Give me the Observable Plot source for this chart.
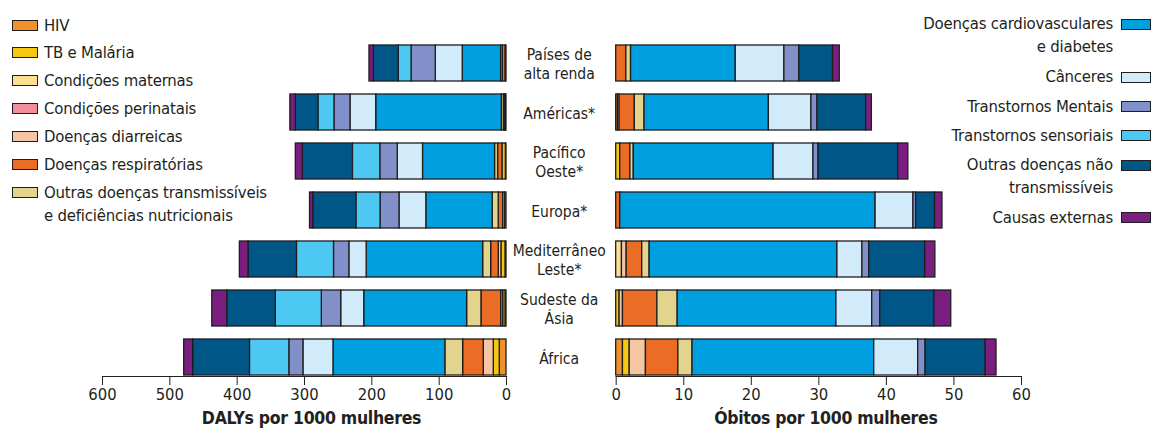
<!DOCTYPE html>
<html><head><meta charset="utf-8">
<script src="https://cdn.jsdelivr.net/npm/d3@7"></script>
<script src="https://cdn.jsdelivr.net/npm/@observablehq/plot@0.6"></script>
<style>
body{margin:0;background:#fff;}
#wrap{position:relative;width:1154px;height:434px;overflow:hidden;font-family:"Liberation Sans Narrow","Arial Narrow","DejaVu Sans Condensed",sans-serif;color:#231f20;}
#left,#right{position:absolute;top:0;}
#left{left:0}
#right{left:510px}
.leg{position:absolute;font-size:16.6px;letter-spacing:-0.2px;line-height:23px;white-space:nowrap;}
.sw{position:absolute;box-sizing:border-box;border:1.4px solid #1e1e1e;}
</style></head>
<body><div id="wrap"><div id="left"></div><div id="right"></div></div>
<script>
// ---- data ----
const regions = ["Países de alta renda","Américas*","Pacífico Oeste*","Europa*","Mediterrâneo Leste*","Sudeste da Ásia","África"];
const regionLabels = ["Países de\nalta renda","Américas*","Pacífico\nOeste*","Europa*","Mediterrâneo\nLeste*","Sudeste da\nÁsia","África"];
const causes = ["HIV","TB e Malária","Condições maternas","Condições perinatais","Doenças diarreicas","Doenças respiratórias","Outras doenças transmissíveis e deficiências nutricionais","Doenças cardiovasculares e diabetes","Cânceres","Transtornos Mentais","Transtornos sensoriais","Outras doenças não transmissíveis","Causas externas"];
const colors = ["#f0922b","#f6c70f","#fde08f","#f28e9a","#f4c6a4","#eb6c25","#e2d38d","#009fdf","#d1ebfb","#8190c8","#4dc8f2","#005787","#7a1f7f"];

// DALYs por 1000 mulheres (values in causes order)
const dalysAltaRenda     = [1.5, 0,   0, 0, 0,    4,    2.5,  57,    40,   36,   19,   37,   6.5];
const dalysAmericas      = [1,   0.5, 0.5, 0, 0.5, 1.5,  3,    186.5, 38.2, 23.8, 23.8, 33.6, 8.1];
const dalysPacifico      = [1,   5,   0, 0, 0,    6.5,  4.5,  107,   37.6, 25.8, 40.7, 74.4, 10.4];
const dalysEuropa        = [2,   3,   0, 0, 0,    6.6,  8.9,  98.6,  39.8, 28.2, 35.8, 64,   4.9];
const dalysMediterraneo  = [1.5, 6,   0, 0, 4,    11.3, 11.9, 173,   25.7, 22.8, 55,   72,   12.8];
const dalysSudeste       = [1.5, 3.4, 0, 0, 3,    29.3, 21.3, 152.8, 34.2, 28.8, 68.4, 72,   22.3];
const dalysAfrica        = [10,  8.9, 0, 0, 14.9, 30.6, 26.4, 166.2, 44.6, 20.9, 58.5, 84.3, 13.4];

// Óbitos por 1000 mulheres
const obitosAltaRenda    = [0,    0,   0,    0, 0,    1.5,  0.7,  15.5, 7.2, 2.2,  0, 5.0,  1.0];
const obitosAmericas     = [0.25, 0,   0,    0, 0.25, 2.25, 1.45, 18.4, 6.3, 0.9,  0, 7.2,  0.85];
const obitosPacifico     = [0,    0.6, 0,    0, 0,    1.5,  0.5,  20.7, 5.9, 0.75, 0, 11.8, 1.5];
const obitosEuropa       = [0,    0,   0,    0, 0,    0.6,  0,    37.8, 5.6, 0.4,  0, 2.8,  1.1];
const obitosMediterraneo = [0,    0,   0.85, 0, 0.7,  2.3,  1.1,  27.8, 3.7, 1.0,  0, 8.3,  1.5];
const obitosSudeste      = [0,    0.5, 0,    0, 0.5,  5.1,  3.0,  23.5, 5.3, 1.2,  0, 8.0,  2.5];
const obitosAfrica       = [1.0,  1.0, 0,    0, 2.4,  4.8,  2.1,  26.9, 6.5, 1.1,  0, 8.9,  1.6];

const dalysTicks = [0,100,200,300,400,500,600];
const obitosTicks = [0,10,20,30,40,50,60];

// ---- build tables ----
function table(series) {
  const rows = [];
  series.forEach((vals, r) => vals.forEach((v, c) => { if (v > 0) rows.push({region: regions[r], cause: causes[c], value: v}); }));
  return rows;
}
const dalysRows = table([dalysAltaRenda,dalysAmericas,dalysPacifico,dalysEuropa,dalysMediterraneo,dalysSudeste,dalysAfrica]);
const obitosRows = table([obitosAltaRenda,obitosAmericas,obitosPacifico,obitosEuropa,obitosMediterraneo,obitosSudeste,obitosAfrica]);

const font = '"Liberation Sans Narrow","Arial Narrow","DejaVu Sans Condensed",sans-serif';
const common = {
  height: 434, marginTop: 44, marginBottom: 58,
  style: {fontFamily: font, fontSize: "16.5px", color: "#231f20", background: "transparent", overflow: "visible"},
  y: {domain: regions, paddingInner: 0.27, paddingOuter: 0, axis: null},
  color: {domain: causes, range: colors}
};

const leftPlot = Plot.plot({
  ...common,
  width: 530, marginLeft: 102, marginRight: 24,
  x: {domain: [0, 600], reverse: true, ticks: dalysTicks, tickSize: 9, tickPadding: 3, label: null},
  marks: [
    Plot.barX(dalysRows, {x: "value", y: "region", fill: "cause", stroke: "#1e1e1e", strokeWidth: 1.3}),
    Plot.frame({anchor: "bottom", stroke: "#231f20", strokeWidth: 1.2}),
    Plot.text(["DALYs por 1000 mulheres"], {frameAnchor: "bottom", dy: 47, dx: 7, fontWeight: "bold", fontSize: 17.5, fill: "#231f20", style: {letterSpacing: "-0.3px"}})
  ]
});
document.getElementById("left").appendChild(leftPlot);

const rightPlot = Plot.plot({
  ...common,
  width: 644, marginLeft: 105.7, marginRight: 133,
  x: {domain: [0, 60], ticks: obitosTicks, tickSize: 9, tickPadding: 3, label: null},
  marks: [
    Plot.barX(obitosRows, {x: "value", y: "region", fill: "cause", stroke: "#1e1e1e", strokeWidth: 1.3}),
    Plot.frame({anchor: "bottom", stroke: "#231f20", strokeWidth: 1.2}),
    Plot.text(regions, {y: d => d, text: (d, i) => regionLabels[i], frameAnchor: "left", dx: -57, textAnchor: "middle", lineAnchor: "middle", lineHeight: 1.25, fontSize: 15.5, fill: "#231f20"}),
    Plot.text(["Óbitos por 1000 mulheres"], {frameAnchor: "bottom", dy: 47, dx: 7, fontWeight: "bold", fontSize: 17.5, fill: "#231f20"})
  ]
});
document.getElementById("right").appendChild(rightPlot);
rightPlot.querySelectorAll("text").forEach(t => { if (t.textContent.startsWith("Óbitos")) t.style.letterSpacing = "-0.3px"; });
leftPlot.querySelectorAll("text").forEach(t => { if (t.textContent.startsWith("DALYs")) t.style.letterSpacing = "-0.3px"; });

// ---- legends ----
const wrap = document.getElementById("wrap");
const leftLegend = [
  {c: 0, text: "HIV", y: 25},
  {c: 1, text: "TB e Malária", y: 52.5},
  {c: 2, text: "Condições maternas", y: 80.5},
  {c: 3, text: "Condições perinatais", y: 108.5},
  {c: 4, text: "Doenças diarreicas", y: 136.5},
  {c: 5, text: "Doenças respiratórias", y: 164.3},
  {c: 6, text: "Outras doenças transmissíveis<br>e deficiências nutricionais", y: 192.5}
];
leftLegend.forEach(d => {
  const sw = document.createElement("div");
  sw.className = "sw";
  Object.assign(sw.style, {left: "12px", top: (d.y - 5.5) + "px", width: "26px", height: "11px", background: colors[d.c]});
  wrap.appendChild(sw);
  const t = document.createElement("div");
  t.className = "leg";
  t.innerHTML = d.text;
  Object.assign(t.style, {left: "44px", top: (d.y - 11.5) + "px", textAlign: "left"});
  wrap.appendChild(t);
});
const rightLegend = [
  {c: 7, text: "Doenças cardiovasculares<br>e diabetes", y: 23.5},
  {c: 8, text: "Cânceres", y: 76.5},
  {c: 9, text: "Transtornos Mentais", y: 106},
  {c: 10, text: "Transtornos sensoriais", y: 135},
  {c: 11, text: "Outras doenças não<br>transmissíveis", y: 164.5},
  {c: 12, text: "Causas externas", y: 217}
];
rightLegend.forEach(d => {
  const sw = document.createElement("div");
  sw.className = "sw";
  Object.assign(sw.style, {left: "1121px", top: (d.y - 5) + "px", width: "30px", height: "11px", background: colors[d.c]});
  wrap.appendChild(sw);
  const t = document.createElement("div");
  t.className = "leg";
  t.innerHTML = d.text;
  Object.assign(t.style, {right: "41px", top: (d.y - 11.5) + "px", textAlign: "right"});
  wrap.appendChild(t);
});
</script>
</body></html>
